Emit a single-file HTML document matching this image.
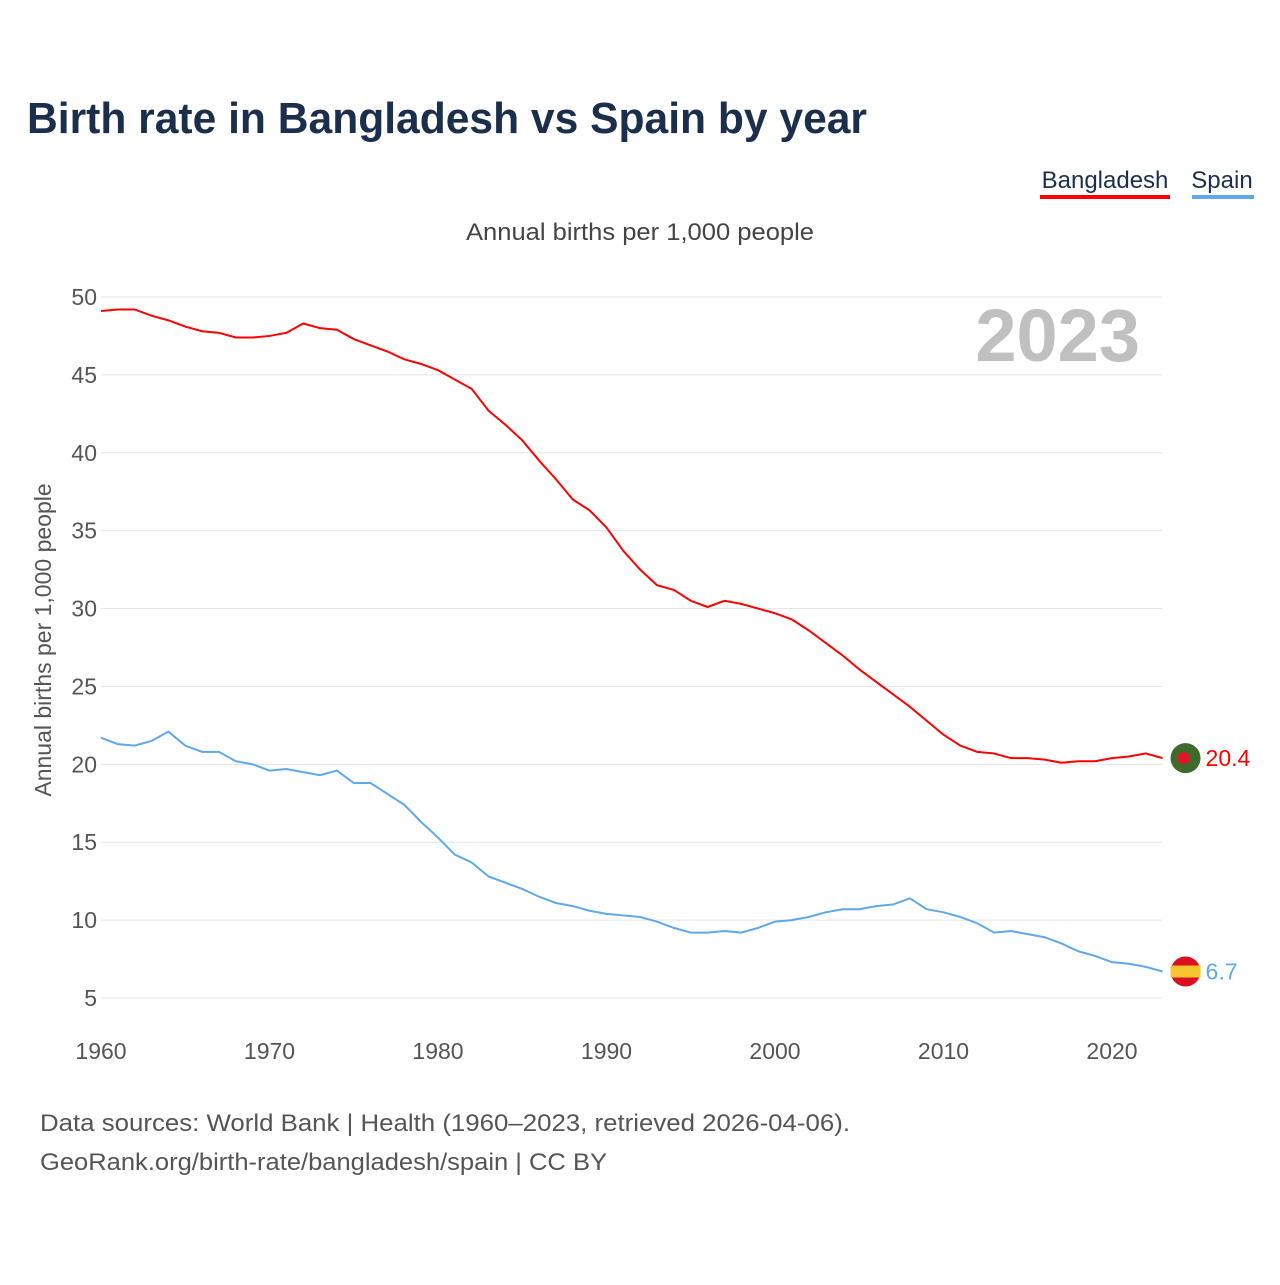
<!DOCTYPE html>
<html><head><meta charset="utf-8"><style>
body{margin:0;background:#fff;font-family:"Liberation Sans",sans-serif;}
svg text{font-family:"Liberation Sans",sans-serif;}
</style></head><body>
<svg id="chart" width="1280" height="1280">
<text x="27" y="133" font-size="44" font-weight="bold" fill="#1b2f4d" textLength="840" lengthAdjust="spacingAndGlyphs">Birth rate in Bangladesh vs Spain by year</text>
<g>
<text x="1105" y="188" font-size="24" fill="#1b2f4d" text-anchor="middle">Bangladesh</text>
<rect x="1040" y="195" width="130" height="4" fill="#ff0000"/>
<text x="1222" y="188" font-size="24" fill="#1b2f4d" text-anchor="middle">Spain</text>
<rect x="1192" y="195" width="62" height="4" fill="#5fa8ea"/>
</g>
<text x="466" y="240" font-size="24" fill="#444" textLength="348" lengthAdjust="spacingAndGlyphs">Annual births per 1,000 people</text>
<text x="1140" y="361" font-size="74" font-weight="bold" fill="#c0c0c0" text-anchor="end">2023</text>
<text transform="translate(51,640) rotate(-90)" font-size="23" fill="#555" text-anchor="middle">Annual births per 1,000 people</text>
<g id="grid"></g><g id="yt"></g><g id="xt"></g><g id="lines"></g>
<text x="40" y="1131" font-size="24" fill="#555" textLength="810" lengthAdjust="spacingAndGlyphs">Data sources: World Bank | Health (1960–2023, retrieved 2026-04-06).</text>
<text x="40" y="1170" font-size="24" fill="#555" textLength="567" lengthAdjust="spacingAndGlyphs">GeoRank.org/birth-rate/bangladesh/spain | CC BY</text>
</svg>
<script>
const years=[];for(let y=1960;y<=2023;y++)years.push(y);
const bangladesh=[49.1,49.2,49.2,48.8,48.5,48.1,47.8,47.7,47.4,47.4,47.5,47.7,48.3,48.0,47.9,47.3,46.9,46.5,46.0,45.7,45.3,44.7,44.1,42.7,41.8,40.8,39.5,38.3,37.0,36.3,35.2,33.7,32.5,31.5,31.2,30.5,30.1,30.5,30.3,30.0,29.7,29.3,28.6,27.8,27.0,26.1,25.3,24.5,23.7,22.8,21.9,21.2,20.8,20.7,20.4,20.4,20.3,20.1,20.2,20.2,20.4,20.5,20.7,20.4];
const spain=[21.7,21.3,21.2,21.5,22.1,21.2,20.8,20.8,20.2,20.0,19.6,19.7,19.5,19.3,19.6,18.8,18.8,18.1,17.4,16.3,15.3,14.2,13.7,12.8,12.4,12.0,11.5,11.1,10.9,10.6,10.4,10.3,10.2,9.9,9.5,9.2,9.2,9.3,9.2,9.5,9.9,10.0,10.2,10.5,10.7,10.7,10.9,11.0,11.4,10.7,10.5,10.2,9.8,9.2,9.3,9.1,8.9,8.5,8.0,7.7,7.3,7.2,7.0,6.7];
const yTicks=[5,10,15,20,25,30,35,40,45,50];
const xTicks=[1960,1970,1980,1990,2000,2010,2020];
const NS="http://www.w3.org/2000/svg";
const X=v=>101+(v-1960)*16.85, Y=v=>297+(50-v)*701/45;
function el(t,a,p){const e=document.createElementNS(NS,t);for(const k in a)e.setAttribute(k,a[k]);document.getElementById(p).appendChild(e);return e;}
yTicks.forEach(t=>{
 const l=el('line',{x1:101,x2:1162,y1:Y(t),y2:Y(t),stroke:'#e6e6e6','stroke-width':1},'grid');
 
 
 const tx=el('text',{x:97,y:Y(t)+8,'font-size':23,fill:'#555','text-anchor':'end'},'yt');tx.textContent=t;
 
 
});
xTicks.forEach(t=>{
 const tx=el('text',{x:X(t),y:1059,'font-size':23,fill:'#555','text-anchor':'middle'},'xt');tx.textContent=t;
 
 
});
function series(data,color,name){
 const p=el('polyline',{points:data.map((v,i)=>X(years[i])+','+Y(v)).join(' '),fill:'none',stroke:color,'stroke-width':2},'lines');
 
 
 const last=data[data.length-1],cx=X(2023)+23,cy=Y(last);
 return {last,cx,cy};
}
let b=series(bangladesh,'#ff0000','bangladesh');
let c=el('circle',{cx:b.cx,cy:b.cy,r:15,fill:'#3f6b2a'},'lines');


el('circle',{cx:b.cx-2,cy:b.cy,r:6,fill:'#e5132a'},'lines');
let t1=el('text',{x:b.cx+20,y:b.cy+8,'font-size':23,fill:'#ff0000'},'lines');t1.textContent=b.last.toFixed(1);


let s=series(spain,'#5fa8ea','spain');
let c2=el('circle',{cx:s.cx,cy:s.cy,r:15,fill:'#d9101f'},'lines');


el('rect',{x:s.cx-15,y:s.cy-6,width:30,height:12,fill:'#f6c630'},'lines');
let t2=el('text',{x:s.cx+20,y:s.cy+8,'font-size':23,fill:'#5fa8ea'},'lines');t2.textContent=s.last.toFixed(1);


</script>
</body></html>
